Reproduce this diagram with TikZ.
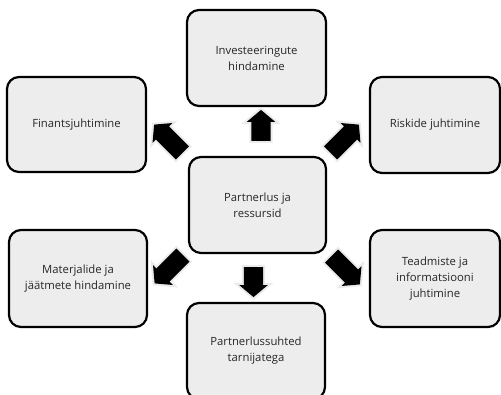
\documentclass[tikz,border=0pt]{standalone}
\usepackage{fontspec}
\setmainfont{Open Sans}
\usetikzlibrary{shapes.arrows}
\definecolor{boxfill}{HTML}{EDEDED}
\definecolor{txt}{HTML}{262626}
\tikzset{
  topic/.style={draw=black, line width=2.2bp, fill=boxfill, rounded corners=12bp,
    align=center, text=txt, inner sep=3bp,
    font=\fontsize{11.3bp}{16bp}\selectfont},
  blockarrow/.style={single arrow, fill=black, inner sep=0pt,
    minimum width=28bp, single arrow head extend=4.5bp,
    single arrow tip angle=100,
    preaction={draw=black!8, line width=4bp}},
}
\begin{document}
\begin{tikzpicture}[x=1bp,y=-1bp]
\useasboundingbox (0,0) rectangle (501,394);
\clip (0,0) rectangle (501,394);
% centre topic
\node[topic, minimum width=137bp, minimum height=96bp] (hub) at (257.5,205) {Partnerlus ja\\ressursid};
% surrounding topics
\node[topic, minimum width=139bp, minimum height=96bp] (invest) at (256.5,58) {Investeeringute\\hindamine};
\node[topic, minimum width=139bp, minimum height=95bp] (finance) at (76.5,124.5) {Finantsjuhtimine};
\node[topic, minimum width=130bp, minimum height=96bp] (risk) at (435,125) {Riskide juhtimine};
\node[topic, minimum width=138bp, minimum height=97bp] (material) at (78,278.5) {Materjalide ja\\jäätmete hindamine};
\node[topic, minimum width=130bp, minimum height=97bp] (knowledge) at (435,278.5) {Teadmiste ja\\informatsiooni\\juhtimine};
\node[topic, minimum width=138bp, minimum height=96bp] (supply) at (256,351) {Partnerlussuhted\\tarnijatega};
% arrows radiating from the hub
\node[blockarrow, minimum height=31bp, rotate=90, inner ysep=9.5bp] (aup) at (261,129.5) {};
\node[blockarrow, minimum height=30bp, rotate=-90, inner ysep=9.5bp] (adown) at (253.5,278) {};
\node[blockarrow, minimum height=40bp, rotate=135, inner ysep=8.5bp] (aul) at (171,141.5) {};
\node[blockarrow, minimum height=40bp, rotate=45, inner ysep=8.5bp] (aur) at (342,141.5) {};
\node[blockarrow, minimum height=40bp, rotate=-135, inner ysep=8.5bp] (all) at (171.5,266.5) {};
\node[blockarrow, minimum height=40bp, rotate=-45, inner ysep=8.5bp] (alr) at (343,267.5) {};
\end{tikzpicture}
\end{document}
